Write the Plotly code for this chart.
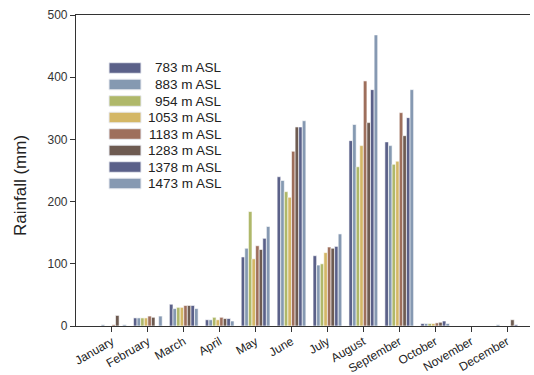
import plotly.graph_objects as go

months = ["January", "February", "March", "April", "May", "June", "July",
          "August", "September", "October", "November", "December"]

labels = ["783 m ASL", "883 m ASL", "954 m ASL", "1053 m ASL",
          "1183 m ASL", "1283 m ASL", "1378 m ASL", "1473 m ASL"]

s783 = [0, 13, 35, 10, 111, 240, 113, 298, 296, 4, 0, 0]
s883 = [2, 13, 28, 10, 125, 234, 98, 324, 290, 4, 0, 2]
s954 = [0, 13, 30, 14, 184, 216, 100, 256, 260, 4, 0, 0]
s1053 = [0, 13, 30, 10, 108, 207, 118, 290, 265, 4, 0, 0]
s1183 = [2, 16, 33, 14, 129, 281, 127, 394, 343, 5, 0, 0]
s1283 = [17, 14, 33, 12, 123, 320, 125, 327, 306, 6, 0, 10]
s1378 = [0, 0, 33, 12, 141, 320, 128, 380, 335, 8, 0, 2]
s1473 = [2, 16, 28, 8, 160, 330, 148, 468, 380, 4, 0, 0]

series = [s783, s883, s954, s1053, s1183, s1283, s1378, s1473]
colors = ["#5b6189", "#8599b1", "#afb86a", "#d4b766", "#9e6f5c",
          "#6e5b51", "#5a6089", "#8699b2"]

W, H = 534, 375
ML, MR, MT, MB = 76, 4, 15, 49
PW, PH = W - ML - MR, H - MT - MB


def px_to_paper(x, y):
    return (x - ML) / PW, (H - MB - y) / PH


fig = go.Figure()
for lab, vals, col in zip(labels, series, colors):
    fig.add_trace(go.Bar(
        x=months, y=vals, name=lab, showlegend=False,
        marker=dict(color=col, line=dict(color="white", width=0.6)),
    ))

# manual legend (wide swatches, right-aligned labels like the original)
shapes, annotations = [], []
for i, (lab, col) in enumerate(zip(labels, colors)):
    cy = 68 + i * 16.5
    x0, y0 = px_to_paper(109, cy - 5.3)
    x1, y1 = px_to_paper(141, cy + 5.3)
    shapes.append(dict(type="rect", xref="paper", yref="paper",
                       x0=x0, x1=x1, y0=y1, y1=y0, fillcolor=col,
                       line=dict(color="#e8eaf0", width=1)))
    tx, ty = px_to_paper(224, cy)
    annotations.append(dict(xref="paper", yref="paper", x=tx, y=ty,
                            xanchor="right", yanchor="middle", text=lab,
                            showarrow=False, font=dict(size=13.5, color="#222")))

# y-axis title
tx, ty = px_to_paper(20, 186)
annotations.append(dict(xref="paper", yref="paper", x=tx, y=ty,
                        xanchor="center", yanchor="middle", textangle=-90,
                        text="Rainfall (mm)", showarrow=False,
                        font=dict(size=17, color="#222")))

fig.update_layout(
    width=W, height=H,
    margin=dict(l=ML, r=MR, t=MT, b=MB),
    plot_bgcolor="white", paper_bgcolor="white",
    barmode="group", bargap=0.2, bargroupgap=0.0,
    font=dict(family="Liberation Sans, Arial, sans-serif", color="#222"),
    showlegend=False, shapes=shapes, annotations=annotations,
)
fig.update_xaxes(
    range=[-1, 11.64], showline=True, linecolor="#333", linewidth=1.2,
    mirror=True, ticks="outside", ticklen=5, tickcolor="#333",
    tickangle=-30, tickfont=dict(size=12, color="#222"), showgrid=False,
    automargin=False, ticklabelstandoff=-2,
)
fig.update_yaxes(
    range=[0, 500], tickvals=[0, 100, 200, 300, 400, 500],
    showline=True, linecolor="#333", linewidth=1.2, ticks="outside",
    ticklen=5, tickcolor="#333", tickfont=dict(size=12, color="#333"),
    showgrid=False, zeroline=False, automargin=False,
)

fig.write_html("out.html")
